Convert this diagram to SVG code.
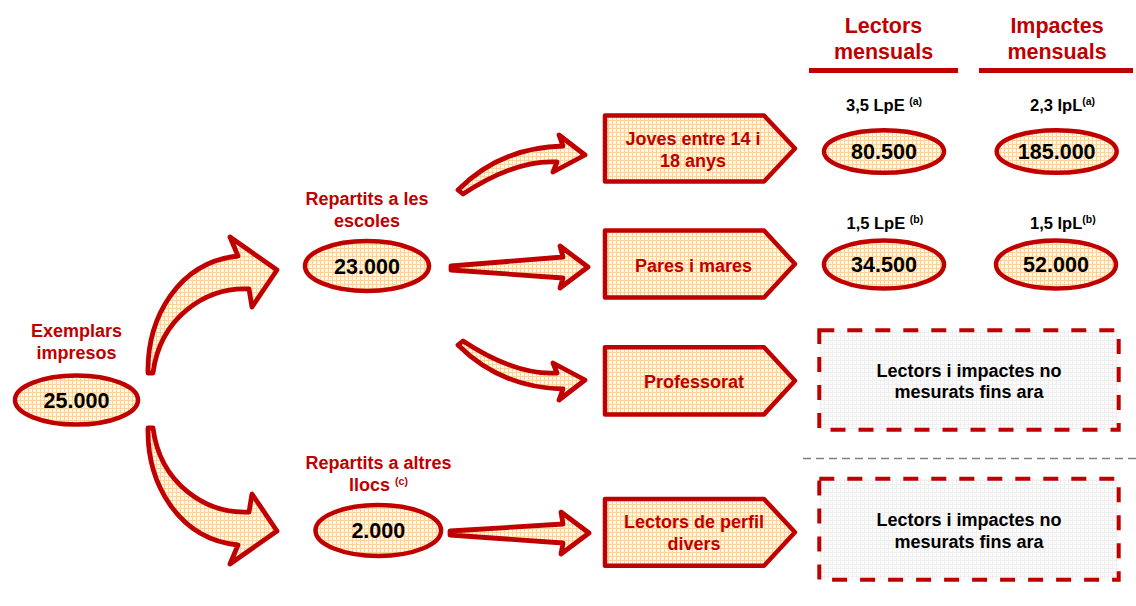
<svg xmlns="http://www.w3.org/2000/svg" width="1136" height="606" viewBox="0 0 1136 606">
<defs>
<pattern id="grid" width="4" height="4" patternUnits="userSpaceOnUse">
<rect width="4" height="4" fill="#fff7ea"/>
<path d="M0,0.5H4M0.5,0V4" stroke="#fad29a" stroke-width="1"/>
</pattern>
<pattern id="grayGrid" width="4" height="4" patternUnits="userSpaceOnUse">
<rect width="4" height="4" fill="#fbfbfb"/>
<path d="M0,0.5H4M0.5,0V4" stroke="#efefef" stroke-width="1"/>
</pattern>
<style>
.shape{fill:url(#grid);stroke:#c00000;stroke-width:4.5;stroke-linejoin:round}
.arrow{fill:url(#grid);stroke:#c00000;stroke-width:4.8;stroke-linejoin:round}
.dbox{fill:url(#grayGrid);stroke:#c00000;stroke-width:4;stroke-dasharray:15 13}
.rlab{font-family:"Liberation Sans",Arial,sans-serif;font-weight:bold;font-size:18px;fill:#c00000;text-anchor:middle}
.blab{font-family:"Liberation Sans",Arial,sans-serif;font-weight:bold;font-size:18px;fill:#000;text-anchor:middle}
.num{font-family:"Liberation Sans",Arial,sans-serif;font-weight:bold;font-size:21.5px;fill:#000;text-anchor:middle}
.head{font-family:"Liberation Sans",Arial,sans-serif;font-weight:bold;font-size:21.5px;fill:#c00000;text-anchor:middle}
.rate{font-family:"Liberation Sans",Arial,sans-serif;font-weight:bold;font-size:16.5px;fill:#000}
.sup{font-size:10.5px}
</style>
</defs>

<g id="connectors">
<path class="arrow" d="M148,373 C147,318 178,262 238,256 L230,237 L277,270 L252,307 L249,289 C205,287 160,318 153,373 Z"/>
<path class="arrow" d="M148,428 C147,483 178,539 238,545 L230,564 L277,531 L252,494 L249,512 C205,514 160,483 153,428 Z"/>
<path class="arrow" d="M458,190 C485,163 520,147 563,146 L559,135 L585,155 L553,172 L557,162 C525,160 492,175 463,194 Z"/>
<path class="arrow" d="M451,266 L563,257 L560,246 L588,267 L560,288 L563,278 L451,270 Z"/>
<path class="arrow" d="M458,345 C485,372 520,388 563,389 L559,400 L585,380 L553,363 L557,373 C525,375 492,360 463,341 Z"/>
<path class="arrow" d="M450,531 L563,524 L561,512 L589,533 L561,554 L563,543 L450,535 Z"/>
</g>

<g id="headers">
<text class="head" x="883.5" y="33">Lectors</text>
<text class="head" x="883.5" y="58.5">mensuals</text>
<rect x="809" y="68" width="149" height="5" fill="#c00000"/>
<text class="head" x="1057" y="33">Impactes</text>
<text class="head" x="1057" y="58.5">mensuals</text>
<rect x="979" y="68" width="154" height="5" fill="#c00000"/>
</g>

<g id="separator">
<line x1="803" y1="458.5" x2="1136" y2="458.5" stroke="#808080" stroke-width="1.5" stroke-dasharray="8 5"/>
</g>

<g id="node-exemplars">
<text class="rlab" x="76.5" y="337">Exemplars</text>
<text class="rlab" x="76.5" y="358.5">impresos</text>
<ellipse class="shape" cx="76.5" cy="400" rx="61.5" ry="24.5"/>
<text class="num" x="76.5" y="407.8">25.000</text>
</g>

<g id="node-escoles">
<text class="rlab" x="367" y="205">Repartits a les</text>
<text class="rlab" x="367" y="226.7">escoles</text>
<ellipse class="shape" cx="367" cy="266" rx="62" ry="25"/>
<text class="num" x="367" y="273.8">23.000</text>
</g>

<g id="node-altres">
<text class="rlab" x="378.5" y="469">Repartits a altres</text>
<text class="rlab" x="378.5" y="490.5">llocs <tspan class="sup" dy="-6">(c)</tspan></text>
<ellipse class="shape" cx="378.3" cy="530.5" rx="62.8" ry="25.5"/>
<text class="num" x="378.3" y="538.3">2.000</text>
</g>

<g id="node-joves">
<path class="shape" d="M605,115.5 H764 L795,148.5 L764,181.5 H605 Z"/>
<text class="rlab" x="693" y="145">Joves entre 14 i</text>
<text class="rlab" x="693" y="166.7">18 anys</text>
</g>

<g id="node-pares">
<path class="shape" d="M605,230.5 H764 L795,264 L764,297.5 H605 Z"/>
<text class="rlab" x="693.5" y="271.7">Pares i mares</text>
</g>

<g id="node-professorat">
<path class="shape" d="M605,347.3 H764 L795,380.8 L764,414.4 H605 Z"/>
<text class="rlab" x="694" y="388.3">Professorat</text>
</g>

<g id="node-perfil">
<path class="shape" d="M605,499 H764 L795,532.3 L764,565.7 H605 Z"/>
<text class="rlab" x="694" y="528.3">Lectors de perfil</text>
<text class="rlab" x="694" y="549.5">divers</text>
</g>

<g id="node-lectors-joves">
<text class="rate" x="846" y="111">3,5 LpE <tspan class="sup" dy="-6">(a)</tspan></text>
<ellipse class="shape" cx="884" cy="151.5" rx="60" ry="21.3"/>
<text class="num" x="884" y="159.2">80.500</text>
</g>

<g id="node-impactes-joves">
<text class="rate" x="1030" y="111">2,3 IpL<tspan class="sup" dy="-6">(a)</tspan></text>
<ellipse class="shape" cx="1056.7" cy="151.5" rx="60" ry="21.3"/>
<text class="num" x="1056.7" y="159.2">185.000</text>
</g>

<g id="node-lectors-pares">
<text class="rate" x="846.5" y="228.5">1,5 LpE <tspan class="sup" dy="-6">(b)</tspan></text>
<ellipse class="shape" cx="884" cy="264.5" rx="60" ry="24"/>
<text class="num" x="884" y="272.2">34.500</text>
</g>

<g id="node-impactes-pares">
<text class="rate" x="1030" y="228.5">1,5 IpL<tspan class="sup" dy="-6">(b)</tspan></text>
<ellipse class="shape" cx="1056" cy="264.5" rx="60" ry="24"/>
<text class="num" x="1056" y="272.2">52.000</text>
</g>

<g id="node-no-mesurats-1">
<rect class="dbox" x="819.3" y="330.3" width="299.4" height="99.4"/>
<text class="blab" x="969" y="376.7">Lectors i impactes no</text>
<text class="blab" x="969" y="398.3">mesurats fins ara</text>
</g>

<g id="node-no-mesurats-2">
<rect class="dbox" x="819.3" y="478.7" width="299.4" height="101"/>
<text class="blab" x="969" y="525.5">Lectors i impactes no</text>
<text class="blab" x="969" y="547.5">mesurats fins ara</text>
</g>
</svg>
